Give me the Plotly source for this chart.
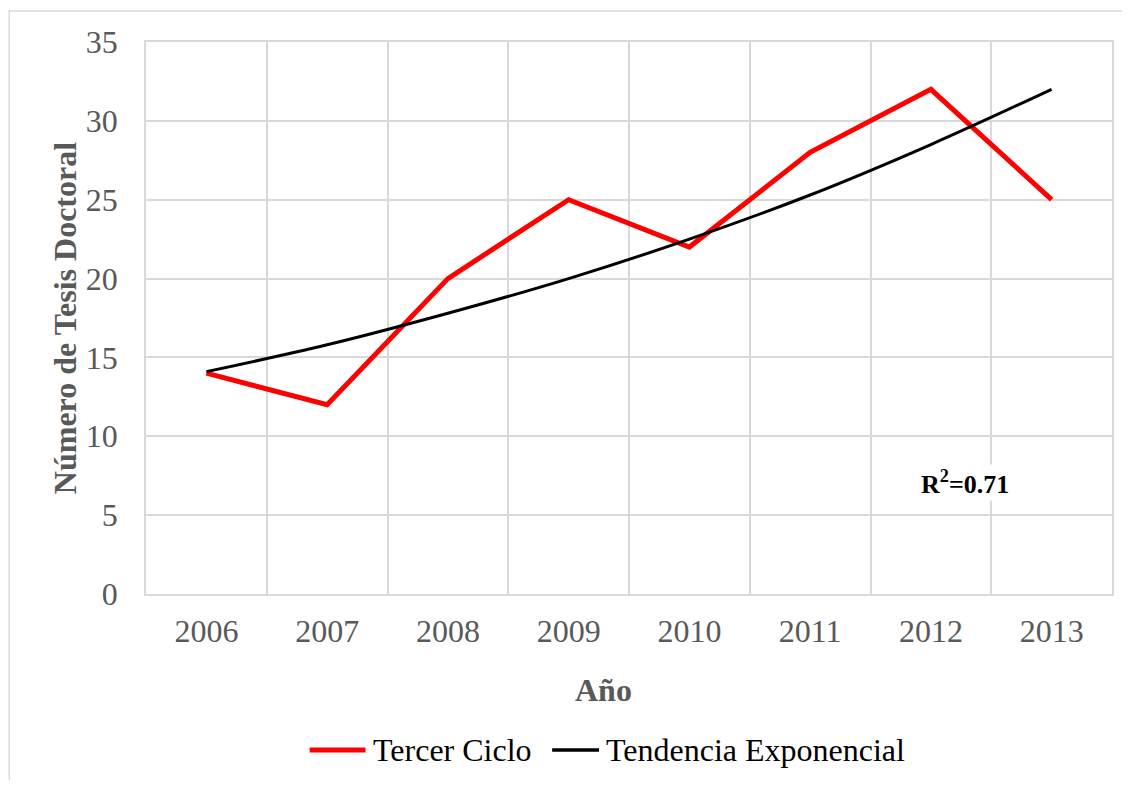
import plotly.graph_objects as go

years = ["2006", "2007", "2008", "2009", "2010", "2011", "2012", "2013"]
tercer_ciclo = [14, 12, 20, 25, 22, 28, 32, 25]
tendencia = [14.1, 15.8, 17.8, 20.0, 22.5, 25.3, 28.5, 32.0]
y_ticks = [0, 5, 10, 15, 20, 25, 30, 35]
series_names = ["Tercer Ciclo", "Tendencia Exponencial"]

xi = list(range(len(years)))
FONT = "Liberation Serif, Times New Roman, serif"
GRID = "#d9d9d9"
GRAY = "#595959"
RED = "#ff0000"


def px_x(p):
    return (p - 146) / 968


def px_y(p):
    return (594 - p) / 552


fig = go.Figure()
fig.add_trace(go.Scatter(x=xi, y=tercer_ciclo, mode="lines", name=series_names[0],
                         line=dict(color=RED, width=5), showlegend=False))
fig.add_trace(go.Scatter(x=xi, y=tendencia, mode="lines", name=series_names[1],
                         line=dict(color="#000000", width=3, shape="spline"), showlegend=False))

fig.update_layout(
    width=1114, height=772,
    margin=dict(l=138, r=8, t=34, b=186),
    paper_bgcolor="white", plot_bgcolor="white",
    font=dict(family=FONT, size=32, color=GRAY),
    xaxis=dict(range=[-0.5, 7.5], tickvals=xi, ticktext=years, showgrid=False,
               zeroline=False, showline=True, mirror=True, linecolor=GRID, linewidth=1.5,
               ticks="", ticklabelstandoff=8,
               tickfont=dict(family=FONT, size=32, color=GRAY),
               minor=dict(tick0=-0.5, dtick=1, showgrid=True, gridcolor=GRID, gridwidth=1.5)),
    yaxis=dict(range=[0, 35], tickvals=y_ticks, showgrid=True, gridcolor=GRID, gridwidth=1.5,
               zeroline=False, showline=True, mirror=True, linecolor=GRID, linewidth=1.5,
               ticks="", ticklabelstandoff=20,
               tickfont=dict(family=FONT, size=32, color=GRAY)),
)

# chart area border
fig.add_shape(type="rect", xref="paper", yref="paper", x0=px_x(9), x1=1.2, y0=-0.5, y1=px_y(11),
              line=dict(color=GRID, width=1.5), fillcolor="rgba(0,0,0,0)", layer="below")

# axis titles
fig.add_annotation(text="<b>Número de Tesis Doctoral</b>", xref="paper", yref="paper",
                   x=px_x(65), y=0.5, textangle=-90, showarrow=False,
                   xanchor="center", yanchor="middle",
                   font=dict(family=FONT, size=32, color=GRAY))
fig.add_annotation(text="<b>Año</b>", xref="paper", yref="paper",
                   x=px_x(604), y=px_y(690), showarrow=False,
                   xanchor="center", yanchor="middle",
                   font=dict(family=FONT, size=32, color=GRAY))
# R^2 label
fig.add_annotation(text="<b>R<sup>2</sup>=0.71</b>", x=6.28, y=7.04, xref="x", yref="y",
                   showarrow=False, bgcolor="white",
                   font=dict(family=FONT, size=26, color="black"))

# legend
leg_y = px_y(750)
legend_items = [
    (series_names[0], RED, 5, 310, 366, 371),
    (series_names[1], "#000000", 3.5, 553, 600, 605),
]
for name, color, w, lx0, lx1, tx in legend_items:
    fig.add_shape(type="line", xref="paper", yref="paper", x0=px_x(lx0), x1=px_x(lx1),
                  y0=leg_y, y1=leg_y, line=dict(color=color, width=w))
    fig.add_annotation(text=name, xref="paper", yref="paper", x=px_x(tx), y=leg_y,
                       xanchor="left", yanchor="middle", showarrow=False,
                       font=dict(family=FONT, size=32, color="black"))

fig.write_html("out.html")
